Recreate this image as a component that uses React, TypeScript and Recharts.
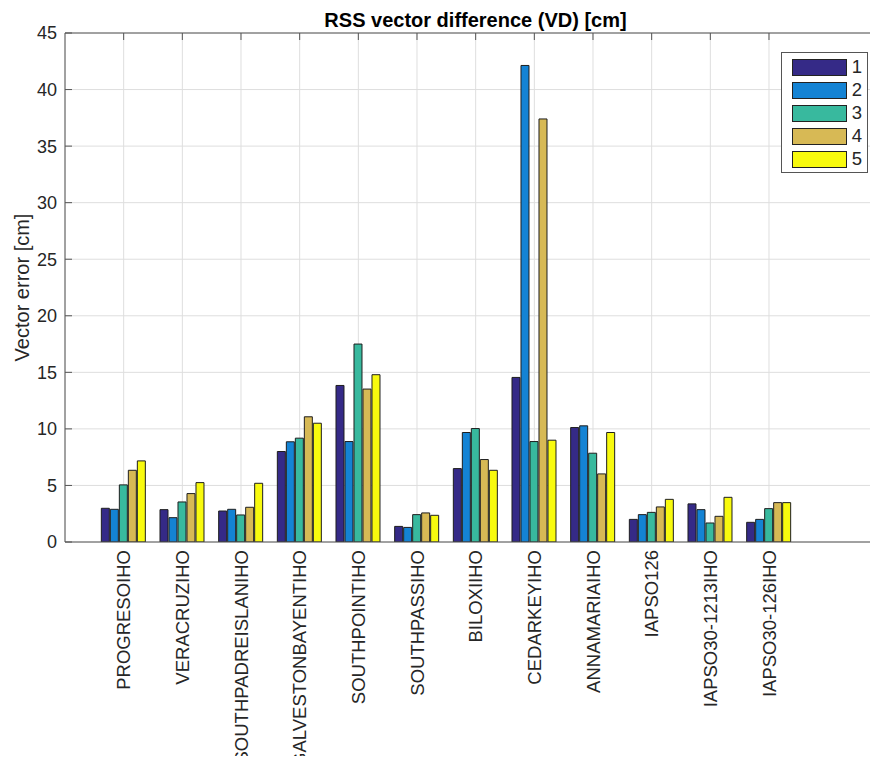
import React from "react";
import { BarChart, Bar, XAxis, YAxis, CartesianGrid, Legend } from "recharts";

// Stations along the x axis
const STATIONS = [
  "PROGRESOIHO",
  "VERACRUZIHO",
  "SOUTHPADREISLANIHO",
  "GALVESTONBAYENTIHO",
  "SOUTHPOINTIHO",
  "SOUTHPASSIHO",
  "BILOXIIHO",
  "CEDARKEYIHO",
  "ANNAMARIAIHO",
  "IAPSO126",
  "IAPSO30-1213IHO",
  "IAPSO30-126IHO",
];

// RSS vector difference per run [cm]
const RUN_1 = [2.98, 2.86, 2.74, 8.0, 13.84, 1.38, 6.49, 14.55, 10.12, 2.0, 3.37, 1.74];
const RUN_2 = [2.89, 2.15, 2.89, 8.86, 8.88, 1.29, 9.68, 42.13, 10.27, 2.42, 2.86, 2.0];
const RUN_3 = [5.05, 3.54, 2.39, 9.18, 17.5, 2.42, 10.03, 8.88, 7.85, 2.62, 1.68, 2.95];
const RUN_4 = [6.34, 4.28, 3.07, 11.07, 13.52, 2.57, 7.29, 37.4, 6.02, 3.1, 2.27, 3.48];
const RUN_5 = [7.17, 5.25, 5.19, 10.5, 14.79, 2.36, 6.34, 9.0, 9.68, 3.77, 3.95, 3.48];

const RUN_KEYS = ["1", "2", "3", "4", "5"];
const RUN_VALUES = [RUN_1, RUN_2, RUN_3, RUN_4, RUN_5];
const Y_TICKS = [0, 5, 10, 15, 20, 25, 30, 35, 40, 45];

// parula-like palette
const COLORS: Record<string, string> = {
  "1": "#352a87",
  "2": "#1483d4",
  "3": "#38b99e",
  "4": "#d7b955",
  "5": "#f8fa0e",
};

const FONT = '"Liberation Sans", Arial, Helvetica, sans-serif';
const TEXT_COLOR = "#262626";
const AXIS_COLOR = "#555555";
const GRID_COLOR = "#dedede";

const data = STATIONS.map((name, i) => {
  const row: Record<string, string | number> = { name };
  RUN_KEYS.forEach((key, s) => {
    row[key] = RUN_VALUES[s][i];
  });
  return row;
});

const StationTick = ({ x, y, payload }: any) => (
  <text
    x={x}
    y={y}
    transform={`rotate(-90, ${x}, ${y})`}
    textAnchor="end"
    dy="0.36em"
    fontSize={18.5}
    fontFamily={FONT}
    fill={TEXT_COLOR}
  >
    {payload.value}
  </text>
);

const NoTick = () => <g />;

const Title = () => (
  <text
    x={467.5}
    y={18.7}
    textAnchor="middle"
    fontSize={20}
    fontWeight="bold"
    fontFamily={FONT}
    fill="#000"
  >
    RSS vector difference (VD) [cm]
  </text>
);

const YTitle = () => (
  <text
    x={13.5}
    y={279.5}
    transform="rotate(-90, 13.5, 279.5)"
    textAnchor="middle"
    dy="0.36em"
    fontSize={20}
    fontFamily={FONT}
    fill={TEXT_COLOR}
  >
    Vector error [cm]
  </text>
);

const LegendBox = ({ payload }: any) => (
  <div
    style={{
      width: 87,
      height: 121,
      boxSizing: "border-box",
      border: "1px solid #555",
      background: "#fff",
      padding: "3px 0 0 10px",
      fontFamily: FONT,
      color: TEXT_COLOR,
    }}
  >
    {(payload || []).map((entry: any) => (
      <div key={entry.value} style={{ display: "flex", alignItems: "center", height: 23 }}>
        <span
          style={{
            display: "inline-block",
            width: 55,
            height: 17,
            boxSizing: "border-box",
            border: "1px solid #222",
            background: entry.color,
          }}
        />
        <span style={{ marginLeft: 5, fontSize: 18.5, lineHeight: "18px" }}>{entry.value}</span>
      </div>
    ))}
  </div>
);

export default function App() {
  return (
    <div style={{ width: 870, height: 756, marginBottom: -8 }}>
      <BarChart
        width={870}
        height={756}
        data={data}
        margin={{ top: 0, right: -8, bottom: 0, left: 0 }}
        barGap={1}
      >
        <CartesianGrid stroke={GRID_COLOR} />
        <XAxis
          dataKey="name"
          interval={0}
          height={222}
          padding={{ left: 29.33, right: 87.67 }}
          axisLine={{ stroke: AXIS_COLOR }}
          tickLine={false}
          tickSize={-7}
          tickMargin={15}
          tick={<StationTick />}
        />
        {/* top frame edge with inward ticks, carries the title */}
        <XAxis
          xAxisId="top"
          dataKey="name"
          orientation="top"
          interval={0}
          height={25}
          padding={{ left: 29.33, right: 87.67 }}
          axisLine={{ stroke: AXIS_COLOR }}
          tickLine={{ stroke: AXIS_COLOR }}
          tickSize={-7}
          tick={<NoTick />}
          label={{ content: <Title /> }}
        />
        <YAxis
          type="number"
          domain={[0, 45]}
          ticks={Y_TICKS}
          interval={0}
          allowDataOverflow
          width={57}
          axisLine={{ stroke: AXIS_COLOR }}
          tickLine={{ stroke: AXIS_COLOR }}
          tickSize={-7}
          tickMargin={15}
          tick={{ fontSize: 18, fontFamily: FONT, fill: TEXT_COLOR }}
          label={{ content: <YTitle /> }}
        />
        <Legend
          layout="vertical"
          align="center"
          verticalAlign="middle"
          content={<LegendBox />}
          wrapperStyle={{ top: 43.7, left: 772.7, width: 87, height: 121, bottom: "auto", right: "auto" }}
        />
        {RUN_KEYS.map((key) => (
          <Bar
            key={key}
            dataKey={key}
            name={key}
            fill={COLORS[key]}
            stroke="#1e1e1e"
            strokeWidth={1}
            barSize={8}
            isAnimationActive={false}
          />
        ))}
      </BarChart>
    </div>
  );
}
